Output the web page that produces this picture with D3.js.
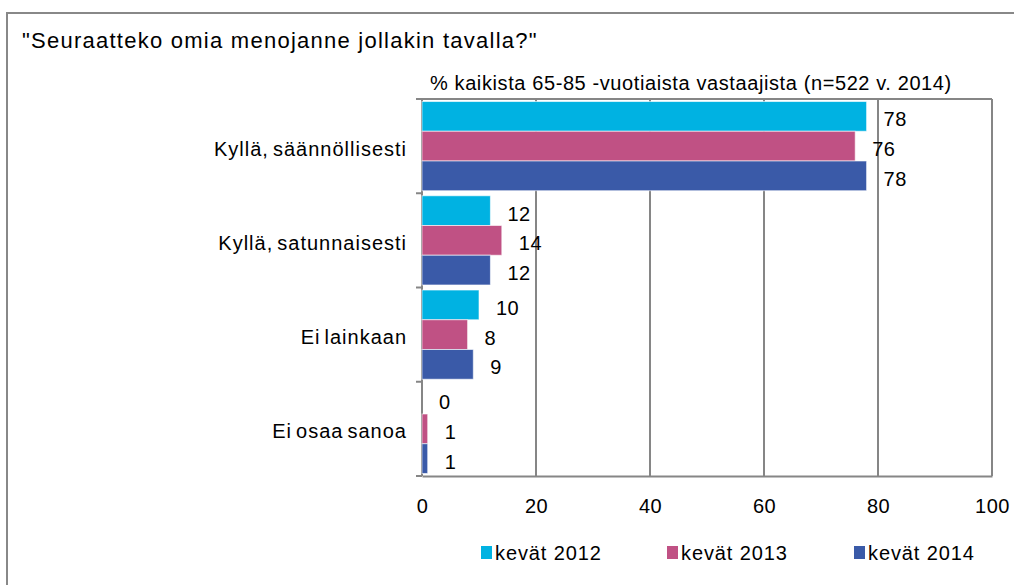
<!DOCTYPE html>
<html>
<head>
<meta charset="utf-8">
<script src="https://cdn.jsdelivr.net/npm/d3@7"></script>
<style>
  html, body { margin: 0; padding: 0; background: #fff; }
  svg { display: block; font-family: "Liberation Sans", Arial, sans-serif; }
</style>
</head>
<body>
<svg id="chart" width="1014" height="585"></svg>
<script>
// ---- data ----
const categories = ["Kyllä, säännöllisesti", "Kyllä, satunnaisesti", "Ei lainkaan", "Ei osaa sanoa"];
const seriesNames = ["kevät 2012", "kevät 2013", "kevät 2014"];
const values2012 = [78, 12, 10, 0];
const values2013 = [76, 14, 8, 1];
const values2014 = [78, 12, 9, 1];
const seriesColors = ["#00B2E2", "#C05184", "#3A5AA8"];
const xTickValues = [0, 20, 40, 60, 80, 100];
const titleText = "\"Seuraatteko omia menojanne jollakin tavalla?\"";
const subtitleText = "% kaikista 65-85 -vuotiaista vastaajista (n=522 v. 2014)";

const seriesValues = [values2012, values2013, values2014];

// ---- layout ----
const svg = d3.select("#chart");
const plot = { left: 422, right: 992, top: 99, bottom: 476 };
const gridColor = "#868686";

// outer frame
svg.append("rect")
  .attr("x", 7).attr("y", 13).attr("width", 1100).attr("height", 1000)
  .attr("fill", "none").attr("stroke", "#888").attr("stroke-width", 2);

// title
svg.append("text")
  .attr("x", 22).attr("y", 48)
  .attr("font-size", 22).attr("letter-spacing", 1.25)
  .attr("fill", "#000")
  .text(titleText);

// subtitle
svg.append("text")
  .attr("x", 430).attr("y", 90)
  .attr("font-size", 20).attr("letter-spacing", 0.6)
  .attr("fill", "#000")
  .text(subtitleText);

// scales
const x = d3.scaleLinear().domain([0, 100]).range([plot.left, plot.right]);
const y = d3.scaleBand().domain(categories).range([plot.top, plot.bottom]).paddingInner(0).paddingOuter(0);
const ySeries = d3.scaleBand().domain(seriesNames).range([0, y.bandwidth()]).paddingInner(0).paddingOuter(0.085);

// vertical gridlines
svg.append("g").selectAll("line")
  .data(xTickValues)
  .join("line")
  .attr("x1", d => x(d)).attr("x2", d => x(d))
  .attr("y1", plot.top).attr("y2", plot.bottom)
  .attr("stroke", gridColor).attr("stroke-width", 2);

// plot top border
svg.append("line")
  .attr("x1", plot.left).attr("x2", plot.right)
  .attr("y1", plot.top).attr("y2", plot.top)
  .attr("stroke", gridColor).attr("stroke-width", 2);

// x axis
const xAxis = d3.axisBottom(x).tickValues(xTickValues).tickSize(0).tickPadding(0).tickFormat(d3.format("d"));
const gx = svg.append("g").attr("transform", `translate(0,${plot.bottom})`).call(xAxis);
gx.select(".domain").attr("stroke", gridColor).attr("stroke-width", 2);
gx.selectAll("text")
  .attr("font-size", 20).attr("font-family", "Liberation Sans, Arial, sans-serif")
  .attr("fill", "#000").attr("dy", null).attr("y", 37)
  .attr("letter-spacing", 0.5);

// y axis: ticks at category boundaries
const boundaries = categories.map(c => y(c)).concat([plot.bottom]);
svg.append("line")
  .attr("x1", plot.left).attr("x2", plot.left)
  .attr("y1", plot.top).attr("y2", plot.bottom)
  .attr("stroke", gridColor).attr("stroke-width", 2);
svg.append("g").selectAll("line")
  .data(boundaries)
  .join("line")
  .attr("x1", plot.left - 6).attr("x2", plot.left)
  .attr("y1", d => d).attr("y2", d => d)
  .attr("stroke", gridColor).attr("stroke-width", 2);

// category labels
svg.append("g").selectAll("text")
  .data(categories)
  .join("text")
  .attr("x", 407)
  .attr("y", d => y(d) + y.bandwidth() / 2 + 9.5)
  .attr("text-anchor", "end")
  .attr("font-size", 20).attr("letter-spacing", 1.0).attr("word-spacing", -2.5)
  .attr("fill", "#000")
  .text(d => d);

// bars
const barData = [];
categories.forEach((c, ci) => {
  seriesNames.forEach((s, si) => {
    barData.push({ cat: c, series: s, si, value: seriesValues[si][ci] });
  });
});

svg.append("g").selectAll("rect")
  .data(barData)
  .join("rect")
  .attr("x", x(0))
  .attr("y", d => y(d.cat) + ySeries(d.series))
  .attr("width", d => x(d.value) - x(0))
  .attr("height", ySeries.bandwidth())
  .attr("fill", d => seriesColors[d.si])
  .attr("stroke", "#fff").attr("stroke-opacity", 0.6).attr("stroke-width", 1);

// value labels
svg.append("g").selectAll("text")
  .data(barData)
  .join("text")
  .attr("x", d => x(d.value) + 17)
  .attr("y", d => y(d.cat) + ySeries(d.series) + ySeries.bandwidth() / 2 + 10)
  .attr("font-size", 20).attr("letter-spacing", 0.5)
  .attr("fill", "#000")
  .text(d => d.value);

// legend
const legendX = [481, 667, 854];
const legend = svg.append("g").selectAll("g")
  .data(seriesNames)
  .join("g")
  .attr("transform", (d, i) => `translate(${legendX[i]},0)`);
legend.append("rect")
  .attr("x", 0).attr("y", 546).attr("width", 11).attr("height", 13)
  .attr("fill", (d, i) => seriesColors[i]);
legend.append("text")
  .attr("x", 14).attr("y", 560)
  .attr("font-size", 20).attr("letter-spacing", 0.9)
  .attr("fill", "#000")
  .text(d => d);
</script>
</body>
</html>
